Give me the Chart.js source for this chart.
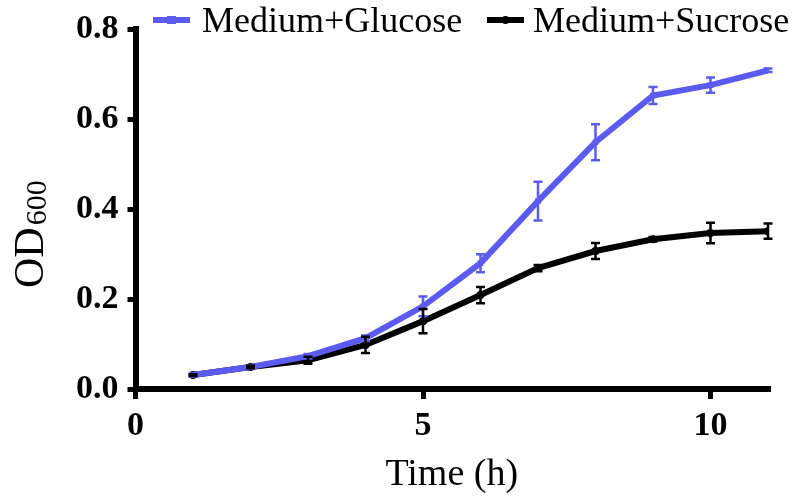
<!DOCTYPE html>
<html><head><meta charset="utf-8">
<script src="https://cdn.jsdelivr.net/npm/chart.js@4/dist/chart.umd.min.js"></script>
<style>html,body{margin:0;padding:0;background:#fff}#wrap{width:800px;height:500px;position:relative}</style>
</head><body><div id="wrap"><canvas id="c"></canvas></div>
<script>
const times = [1, 2, 3, 4, 5, 6, 7, 8, 9, 10, 11];
const glucose = [0.031, 0.049, 0.073, 0.113, 0.184, 0.280, 0.418, 0.549, 0.653, 0.676, 0.709];
const glucoseErr = [0.003, 0.003, 0.005, 0.006, 0.022, 0.020, 0.043, 0.040, 0.019, 0.017, 0.004];
const sucrose = [0.031, 0.049, 0.064, 0.098, 0.151, 0.209, 0.269, 0.307, 0.333, 0.347, 0.351];
const sucroseErr = [0.002, 0.003, 0.008, 0.018, 0.027, 0.018, 0.007, 0.018, 0.005, 0.023, 0.017];
const seriesNames = ['Medium+Glucose', 'Medium+Sucrose'];
const xTickValues = [0, 5, 10];
const yTickValues = [0, 0.2, 0.4, 0.6, 0.8];
const xTitle = 'Time (h)';
const yTitleMain = 'OD';
const yTitleSub = '600';

const FONT = "'Liberation Serif', 'Times New Roman', serif";
const BLUE = '#5b5bf2';
const BLACK = '#000000';

const errs = [glucoseErr, sucroseErr];

const errorBars = {
  id: 'errorBars',
  afterDatasetsDraw(chart) {
    const ctx = chart.ctx;
    const xs = chart.scales.x, ys = chart.scales.y;
    chart.data.datasets.forEach((ds, di) => {
      const e = errs[di];
      ctx.save();
      ctx.strokeStyle = ds.borderColor;
      ctx.lineWidth = 2.5;
      ds.data.forEach((p, i) => {
        if (!e[i]) return;
        const px = xs.getPixelForValue(p.x);
        const t = ys.getPixelForValue(p.y + e[i]);
        const b = ys.getPixelForValue(p.y - e[i]);
        ctx.beginPath();
        ctx.moveTo(px, t); ctx.lineTo(px, b);
        ctx.moveTo(px - 4.5, t); ctx.lineTo(px + 4.5, t);
        ctx.moveTo(px - 4.5, b); ctx.lineTo(px + 4.5, b);
        ctx.stroke();
      });
      ctx.restore();
    });
  }
};

const customLegend = {
  id: 'customLegend',
  afterDraw(chart) {
    const ctx = chart.ctx;
    const pos = [{box: 153, text: 202}, {box: 487, text: 533}];
    ctx.save();
    ctx.font = '36px ' + FONT;
    ctx.textBaseline = 'alphabetic';
    chart.data.datasets.forEach((ds, i) => {
      const p = pos[i];
      ctx.fillStyle = ds.borderColor;
      ctx.fillRect(p.box, 17, 37, 6);
      if (i === 0) ctx.fillRect(p.box + 14, 16, 9, 8);
      else { ctx.beginPath(); ctx.arc(p.box + 18.5, 20, 4, 0, Math.PI * 2); ctx.fill(); }
      ctx.fillStyle = '#000';
      ctx.fillText(ds.label, p.text, 32);
    });
    ctx.restore();
  }
};

const yTitlePlugin = {
  id: 'yTitle',
  afterDraw(chart) {
    const ctx = chart.ctx;
    ctx.save();
    ctx.translate(43, 288);
    ctx.rotate(-Math.PI / 2);
    ctx.fillStyle = '#000';
    ctx.textBaseline = 'alphabetic';
    ctx.font = '42px ' + FONT;
    ctx.fillText(yTitleMain, 0, 0);
    const w = ctx.measureText(yTitleMain).width;
    ctx.font = '30px ' + FONT;
    ctx.fillText(yTitleSub, w + 2, 3);
    ctx.restore();
  }
};

new Chart(document.getElementById('c'), {
  type: 'line',
  data: {
    datasets: [
      {
        label: seriesNames[0],
        data: times.map((t, i) => ({x: t, y: glucose[i]})),
        borderColor: BLUE, backgroundColor: BLUE,
        borderWidth: 6, pointStyle: 'rect', pointRadius: 4,
        pointBorderWidth: 0, tension: 0
      },
      {
        label: seriesNames[1],
        data: times.map((t, i) => ({x: t, y: sucrose[i]})),
        borderColor: BLACK, backgroundColor: BLACK,
        borderWidth: 6, pointStyle: 'circle', pointRadius: 4,
        pointBorderWidth: 0, tension: 0
      }
    ]
  },
  options: {
    responsive: true,
    maintainAspectRatio: false,
    animation: false,
    layout: {padding: {left: 67, right: 32, top: 29, bottom: 6}},
    plugins: {legend: {display: false}, tooltip: {enabled: false}},
    scales: {
      x: {
        type: 'linear', min: 0, max: 11,
        afterBuildTicks: s => { s.ticks = xTickValues.map(v => ({value: v})); },
        border: {color: '#000', width: 6},
        grid: {drawOnChartArea: false, drawTicks: true, tickLength: 10, color: '#000', lineWidth: 5},
        ticks: {color: '#000', padding: 10, font: {family: FONT, size: 34, weight: 'bold', lineHeight: 1}},
        title: {display: true, text: xTitle, color: '#000', font: {family: FONT, size: 38, lineHeight: 1}, padding: {top: 3, bottom: 0}}
      },
      y: {
        min: 0, max: 0.8,
        afterBuildTicks: s => { s.ticks = yTickValues.map(v => ({value: v})); },
        border: {color: '#000', width: 6},
        grid: {drawOnChartArea: false, drawTicks: true, tickLength: 8, color: '#000', lineWidth: 5},
        ticks: {color: '#000', padding: 9, font: {family: FONT, size: 34, weight: 'bold'}, callback: v => v.toFixed(1)}
      }
    }
  },
  plugins: [errorBars, customLegend, yTitlePlugin]
});
</script>
</body></html>
